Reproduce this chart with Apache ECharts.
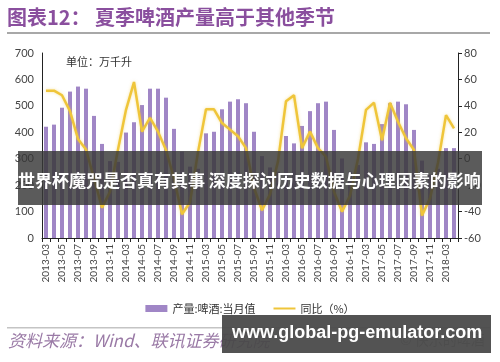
<!DOCTYPE html>
<html>
<head>
<meta charset="utf-8">
<script src="https://cdn.jsdelivr.net/npm/echarts@6/dist/echarts.min.js"></script>
<style>
html,body{margin:0;padding:0;background:#fff;}
#c{width:500px;height:362px;}
</style>
</head>
<body>
<div id="c"></div>
<script>
var categories = [
 '2013-03','2013-04','2013-05','2013-06','2013-07','2013-08','2013-09','2013-10','2013-11','2013-12',
 '2014-03','2014-04','2014-05','2014-06','2014-07','2014-08','2014-09','2014-10','2014-11','2014-12',
 '2015-03','2015-04','2015-05','2015-06','2015-07','2015-08','2015-09','2015-10','2015-11','2015-12',
 '2016-03','2016-04','2016-05','2016-06','2016-07','2016-08','2016-09','2016-10','2016-11','2016-12',
 '2017-03','2017-04','2017-05','2017-06','2017-07','2017-08','2017-09','2017-10','2017-11','2017-12',
 '2018-03','2018-04'
];
var production = [
 421,429,493,554,573,565,462,356,291,288,
 399,438,503,565,565,531,413,327,270,262,
 396,402,487,516,525,510,402,310,267,251,
 386,358,424,480,510,516,409,301,251,276,
 362,356,431,510,516,506,409,293,240,262,
 340,340
];
var yoy = [
 51.5,51.5,48,36,15,7,-15,-37,-25,7,
 37,58,20.5,31,20.5,6.6,-15,-42,-33,5,
 37.4,37.4,27,22,17,8,-22,-39,-27,-2,
 43.5,48,8,20.5,8,1.5,-25,-40,-28,0,
 37,42.4,14,42.4,28,15.5,6.6,-43,-30,-3,
 33,23
];
var leftTicks = {min:0, max:700, interval:100};
var rightTicks = {min:-60, max:80, interval:20};
var seriesNames = ['产量:啤酒:当月值','同比（%）'];

var chart = echarts.init(document.getElementById('c'));
var numFont = 'Lato, "Noto Sans", sans-serif';
var cjk = '"Noto Sans CJK SC", sans-serif';
chart.setOption({
  animation:false,
  backgroundColor:'#fff',
  grid:{left:42,right:42,top:53,bottom:124,containLabel:false},
  legend:{
    data:[
      {name:seriesNames[0],icon:'rect'},
      {name:seriesNames[1],icon:'path://M0 0h0.01v0.01H0zM0 7h0.01v0.01H0zM0 2.6h22v1.8H0z'}
    ],
    left:'center', top:298,
    itemWidth:22, itemHeight:7, itemGap:18,
    textStyle:{fontFamily:cjk,fontSize:11,color:'#333'}
  },
  xAxis:{
    type:'category', data:categories, boundaryGap:true,
    axisLine:{show:true,lineStyle:{color:'#222',width:1}},
    axisTick:{show:true,interval:0,length:4,lineStyle:{color:'#222'}},
    axisLabel:{interval:1,rotate:90,fontSize:10,color:'#444',fontFamily:numFont,margin:6},
    splitLine:{show:false}
  },
  yAxis:[
    {type:'value',min:leftTicks.min,max:leftTicks.max,interval:leftTicks.interval,
     axisLine:{show:true,lineStyle:{color:'#222'}},axisTick:{show:false},
     axisLabel:{fontSize:11,color:'#444',fontFamily:numFont,margin:8},
     splitLine:{show:false}},
    {type:'value',min:rightTicks.min,max:rightTicks.max,interval:rightTicks.interval,
     axisLine:{show:true,lineStyle:{color:'#222'}},axisTick:{show:true,length:4,lineStyle:{color:'#222'}},
     axisLabel:{fontSize:11,color:'#444',fontFamily:numFont,margin:6},
     splitLine:{show:false}}
  ],
  series:[
    {name:seriesNames[0],type:'bar',data:production,barWidth:4,yAxisIndex:0,
     itemStyle:{color:'#a086c6'}},
    {name:seriesNames[1],type:'line',data:yoy,yAxisIndex:1,symbol:'none',
     lineStyle:{color:'#efc53a',width:2.5,shadowColor:'rgba(240,200,60,0.5)',shadowBlur:3},
     itemStyle:{color:'#efc53a'}}
  ],
  graphic:[
    {type:'text',left:7,top:7,z:100,style:{text:'图表12：',font:'bold 20px "Noto Sans CJK SC"',fill:'#8a4f9e'}},
    {type:'text',left:95,top:7,z:100,style:{text:'夏季啤酒产量高于其他季节',font:'bold 20px "Noto Sans CJK SC"',fill:'#8a4f9e'}},
    {type:'rect',z:100,shape:{x:7,y:32,width:483,height:2},style:{fill:'#a8a8a8'}},
    {type:'text',left:66,top:56,z:100,style:{text:'单位：万千升',font:'11px "Noto Sans CJK SC"',fill:'#333'}},
    {type:'rect',z:100,shape:{x:7,y:327,width:483,height:1.5},style:{fill:'#c4c4c4'}},
    {type:'text',left:8,top:332,z:100,style:{text:'资料来源：Wind、联讯证券研究院',font:'italic 17px "Noto Sans CJK SC"',fill:'#9a7aa6'}},
    {type:'text',left:400,top:333,z:100,style:{text:'© 快乐的啤酒',font:'14px "Noto Sans CJK SC"',fill:'#999'}},
    {type:'rect',z:110,shape:{x:18,y:151,width:464,height:54},style:{fill:'rgba(55,55,55,0.82)'}},
    {type:'text',left:18,top:172,z:111,style:{text:'世界杯魔咒是否真有其事 深度探讨历史数据与心理因素的影响',font:'bold 17px "Noto Sans CJK SC"',fill:'#fff'}},
    {type:'rect',z:110,shape:{x:222,y:315,width:269,height:38},style:{fill:'rgba(72,72,72,0.94)'}},
    {type:'text',left:232,top:324,z:111,style:{text:'www.global-pg-emulator.com',font:'bold 18px "Liberation Sans"',fill:'#fff'}}
  ]
});
</script>
</body>
</html>
